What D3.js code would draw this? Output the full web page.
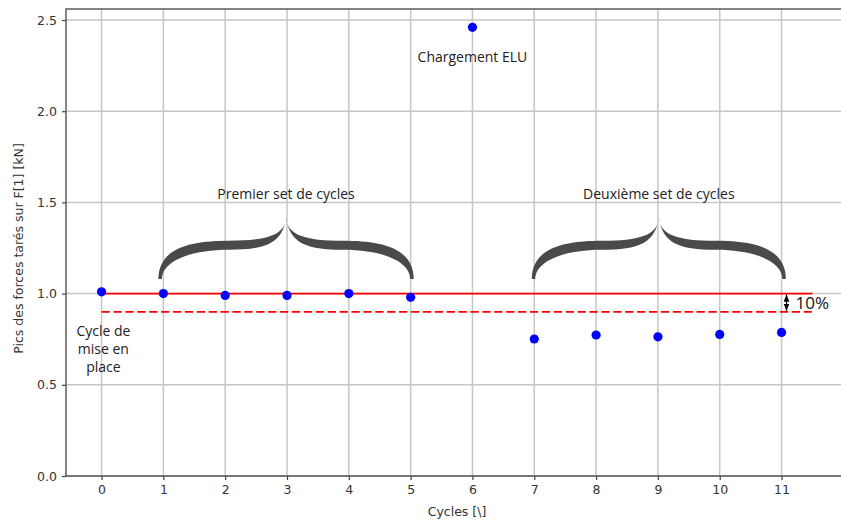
<html>
<head>
<script src="https://d3js.org/d3.v7.min.js"></script>
<style>
  body { margin: 0; background: #fff; }
  svg text { font-family: "DejaVu Sans", sans-serif; }
</style>
</head>
<body>
<svg id="chart" width="841" height="523"></svg>
<script>
// data
var cycles = [0, 1, 2, 3, 4, 5, 6, 7, 8, 9, 10, 11];
var pics = [1.01, 1.0, 0.99, 0.99, 1.0, 0.98, 2.46, 0.751, 0.773, 0.763, 0.776, 0.787];
var xTicks = [0, 1, 2, 3, 4, 5, 6, 7, 8, 9, 10, 11];
var yTicks = [0.0, 0.5, 1.0, 1.5, 2.0, 2.5];
var refLevel = 1.0, lowLevel = 0.9, refEnd = 11.5;
var braces = [
    {from: 0.92, to: 5.05, label: "Premier set de cycles"},
    {from: 6.96, to: 11.07, label: "Deuxième set de cycles"}
];

var svg = d3.select("#chart");
var pLeft = 66, pRight = 848, pTop = 9, pBottom = 476;

var x = d3.scaleLinear().domain([-0.575, 12.075]).range([pLeft, pRight]);
var y = d3.scaleLinear().domain([0, 2.56]).range([pBottom, pBottom - 2.56 * 182.4]);

// grid
var g = svg.append("g");
g.selectAll(".vg").data(xTicks).enter().append("line")
    .attr("x1", d => x(d)).attr("x2", d => x(d))
    .attr("y1", pTop).attr("y2", pBottom)
    .attr("stroke", "#c6c6c6").attr("stroke-width", 1.5);
g.selectAll(".hg").data(yTicks).enter().append("line")
    .attr("x1", pLeft).attr("x2", pRight)
    .attr("y1", d => y(d)).attr("y2", d => y(d))
    .attr("stroke", "#c6c6c6").attr("stroke-width", 1.5);

// axes
var xAxis = svg.append("g").attr("transform", "translate(0," + pBottom + ")")
    .call(d3.axisBottom(x).tickValues(xTicks).tickSize(4).tickPadding(5).tickFormat(d3.format("d")));
var yAxis = svg.append("g").attr("transform", "translate(" + pLeft + ",0)")
    .call(d3.axisLeft(y).tickValues(yTicks).tickSize(4).tickPadding(5).tickFormat(d3.format(".1f")));
[xAxis, yAxis].forEach(function (a) {
    a.select(".domain").remove();
    a.selectAll("line").attr("stroke", "#444").attr("stroke-width", 1.2);
    a.selectAll("text").attr("fill", "#333").style("font-size", "12.5px").style("font-family", "DejaVu Sans");
});

// frame
svg.append("rect").attr("x", pLeft).attr("y", pTop)
    .attr("width", pRight - pLeft).attr("height", pBottom - pTop)
    .attr("fill", "none").attr("stroke", "#444").attr("stroke-width", 1.3);

// reference lines
svg.append("line")
    .attr("x1", x(0)).attr("x2", x(refEnd))
    .attr("y1", y(refLevel)).attr("y2", y(refLevel))
    .attr("stroke", "red").attr("stroke-width", 1.6);
svg.append("line")
    .attr("x1", x(0)).attr("x2", x(refEnd))
    .attr("y1", y(lowLevel)).attr("y2", y(lowLevel))
    .attr("stroke", "red").attr("stroke-width", 1.6)
    .attr("stroke-dasharray", "8.3,3.6");

// points
svg.selectAll(".pt").data(cycles).enter().append("circle")
    .attr("cx", d => x(d)).attr("cy", (d, i) => y(pics[i]))
    .attr("r", 4.6).attr("fill", "#0000ff");

// braces
function bracePath(x1, x2, yb, yp, yt, T) {
    var m = (x1 + x2) / 2, w = (x2 - x1) / 2;
    var p = d3.path();
    [-1, 1].forEach(function (s) {
        var X = u => m + s * u;
        p.moveTo(X(w), yb);
        p.bezierCurveTo(X(w), yb - 0.85 * (yb - yp), X(0.72 * w), yp, X(0.45 * w), yp);
        p.bezierCurveTo(X(0.15 * w), yp, X(0.01 * w), yp - 0.25 * (yp - yt), m, yt);
        p.bezierCurveTo(X(0.03 * w), yp + 0.2 * T, X(0.15 * w), yp + T, X(0.45 * w), yp + T);
        p.bezierCurveTo(X(0.75 * w), yp + T, X(w - 3.5), yb - 0.6 * (yb - yp - T), X(w - 3.5), yb);
        p.closePath();
    });
    return p.toString();
}
braces.forEach(function (b) {
    svg.append("path")
        .attr("d", bracePath(x(b.from), x(b.to), y(1.08), y(1.29), y(1.415), 9))
        .attr("fill", "#4a4a4a");
    svg.append("text")
        .attr("x", x((b.from + b.to) / 2)).attr("y", 199)
        .attr("text-anchor", "middle")
        .style("font-family", "Open Sans").style("font-size", "14px")
        .attr("fill", "#222").text(b.label);
});

// annotations
svg.append("text").attr("x", x(6)).attr("y", 62)
    .attr("text-anchor", "middle")
    .style("font-family", "Open Sans").style("font-size", "14px")
    .attr("fill", "#222").text("Chargement ELU");

var cyc = svg.append("text").attr("text-anchor", "middle")
    .style("font-family", "Open Sans").style("font-size", "14px").attr("fill", "#222");
["Cycle de", "mise en", "place"].forEach(function (t, i) {
    cyc.append("tspan").attr("x", x(0.03)).attr("y", 336 + i * 18).text(t);
});

// 10% arrow
var ax = x(11.08);
svg.append("defs").append("marker")
    .attr("id", "ah").attr("viewBox", "0 0 10 10").attr("refX", 10).attr("refY", 5)
    .attr("markerWidth", 6).attr("markerHeight", 6).attr("orient", "auto-start-reverse")
    .append("path").attr("d", "M0,1 L10,5 L0,9 Z").attr("fill", "#000");
svg.append("line")
    .attr("x1", ax).attr("x2", ax)
    .attr("y1", y(refLevel) + 1).attr("y2", y(lowLevel) - 1)
    .attr("stroke", "#000").attr("stroke-width", 1.2)
    .attr("marker-start", "url(#ah)").attr("marker-end", "url(#ah)");
svg.append("text").attr("x", ax + 9).attr("y", y((refLevel + lowLevel) / 2) + 6)
    .style("font-family", "Open Sans").style("font-size", "17px")
    .attr("fill", "#111").text("10%");

// axis titles
svg.append("text")
    .attr("transform", "translate(23," + ((pTop + pBottom) / 2 + 6) + ") rotate(-90)")
    .attr("text-anchor", "middle").style("font-size", "12.5px").attr("fill", "#333")
    .text("Pics des forces tarés sur F[1] [kN]");
svg.append("text")
    .attr("x", (pLeft + pRight) / 2).attr("y", 516)
    .attr("text-anchor", "middle").style("font-size", "12.5px").attr("fill", "#333")
    .text("Cycles [\\]");
</script>
</body>
</html>
